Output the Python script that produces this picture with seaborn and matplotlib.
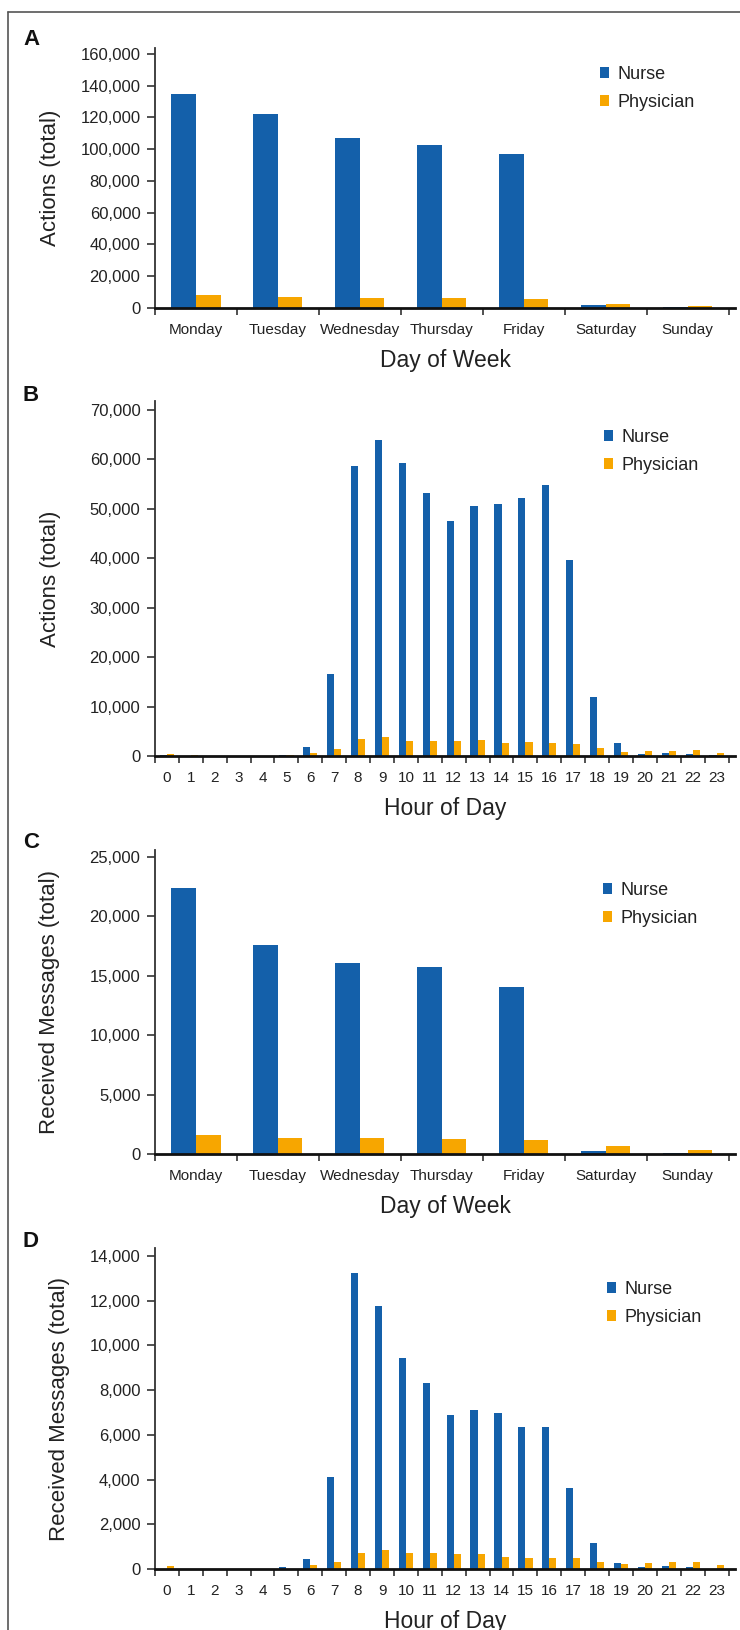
import numpy as np
import pandas as pd
import matplotlib
matplotlib.use("Agg")
import matplotlib.pyplot as plt
from matplotlib.lines import Line2D
from matplotlib.ticker import FuncFormatter
import seaborn as sns

days = ["Monday", "Tuesday", "Wednesday", "Thursday", "Friday", "Saturday", "Sunday"]
hours = [str(h) for h in range(24)]
groups = ["Nurse", "Physician"]

actions_day_nurse = [135000, 122000, 106800, 102400, 96800, 1900, 600]
actions_day_physician = [8200, 6900, 6300, 6300, 5650, 2500, 1250]

actions_hour_nurse = [150, 60, 0, 0, 0, 200, 1820, 16600, 58600, 63900, 59200, 53200,
                      47500, 50500, 50900, 52100, 54800, 39600, 12000, 2650, 400, 600, 400, 200]
actions_hour_physician = [400, 150, 0, 0, 0, 150, 680, 1500, 3450, 3870, 3060, 3060,
                          3060, 3270, 2650, 2860, 2650, 2450, 1630, 820, 1020, 1020, 1220, 610]

messages_day_nurse = [22380, 17600, 16080, 15740, 14050, 280, 110]
messages_day_physician = [1640, 1380, 1380, 1300, 1210, 700, 370]

messages_hour_nurse = [0, 0, 0, 0, 0, 75, 435, 4130, 13220, 11750, 9420, 8340,
                       6870, 7090, 6960, 6370, 6370, 3640, 1150, 255, 75, 115, 75, 0]
messages_hour_physician = [115, 0, 0, 0, 0, 0, 165, 295, 705, 835, 705, 705,
                           655, 655, 525, 475, 475, 475, 295, 205, 255, 295, 295, 165]

blue = "#1460AA"
orange = "#F7A600"

sns.set_style("ticks")
plt.rcParams["font.family"] = ["Liberation Sans", "DejaVu Sans"]
plt.rcParams["text.color"] = "#222222"
plt.rcParams["axes.labelcolor"] = "#222222"

W, H = 740, 1630
fig = plt.figure(figsize=(W / 100, H / 100), dpi=100)

# letter, categories, nurse, physician, ymax, ystep, ylabel, xlabel
panels = [
    ("A", days, actions_day_nurse, actions_day_physician, 160000, 20000, "Actions (total)", "Day of Week"),
    ("B", hours, actions_hour_nurse, actions_hour_physician, 70000, 10000, "Actions (total)", "Hour of Day"),
    ("C", days, messages_day_nurse, messages_day_physician, 25000, 5000, "Received Messages (total)", "Day of Week"),
    ("D", hours, messages_hour_nurse, messages_hour_physician, 14000, 2000, "Received Messages (total)", "Hour of Day"),
]

# layout in pixels: top tick y, zero y, legend (x, y), ylabel x
layout = [
    (53.9, 308, 600, 72, 61),
    (410, 756, 604, 435, 61),
    (857, 1154, 603, 888, 60),
    (1256, 1569, 607, 1287, 70),
]

x0, x1 = 155, 735
for (letter, cats, nurse, phys, ymax, ystep, ylab, xlab), (ytick_top, y_zero, lx, ly, ylx) in zip(panels, layout):
    n = len(cats)
    h_px = (y_zero - ytick_top) * 1.025
    ax = fig.add_axes([x0 / W, 1 - y_zero / H, (x1 - x0) / W, h_px / H])
    df = pd.DataFrame({
        "cat": cats * 2,
        "group": ["Nurse"] * n + ["Physician"] * n,
        "value": nurse + phys,
    })
    sns.barplot(data=df, x="cat", y="value", hue="group", order=cats, hue_order=groups,
                palette=[blue, orange], width=0.6, saturation=1, linewidth=0,
                errorbar=None, ax=ax)
    ax.set_xlim(-0.5, n - 0.5 + n * 0.0113)
    ax.set_ylim(0, ymax * 1.025)
    ax.set_yticks(np.arange(0, ymax + 1, ystep))
    ax.yaxis.set_major_formatter(FuncFormatter(lambda v, p: f"{int(v):,}"))
    ax.set_xticks(np.arange(-0.5, n, 1), minor=True)
    ax.tick_params(axis="x", which="major", length=0, pad=10.8, labelsize=11, colors="#222222")
    ax.tick_params(axis="x", which="minor", length=4.8, width=1.2, color="#333333")
    ax.tick_params(axis="y", which="major", length=5.5, width=1.2, pad=5, labelsize=12,
                   color="#333333", labelcolor="#222222")
    sns.despine(ax=ax)
    ax.spines["left"].set_linewidth(1.3)
    ax.spines["left"].set_color("#333333")
    ax.spines["bottom"].set_linewidth(2)
    ax.spines["bottom"].set_color("#111111")
    ax.set_ylabel(ylab, fontsize=16)
    ax.yaxis.set_label_coords((ylx - x0) / (x1 - x0), 0.5)
    ax.set_xlabel(xlab, fontsize=16.5, labelpad=8.5)
    ax.legend(loc="upper left", bbox_to_anchor=(lx / W, 1 - (ly - 6) / H),
              bbox_transform=fig.transFigure, frameon=False, fontsize=13,
              handlelength=0.5, handleheight=0.5, handletextpad=0.45,
              labelspacing=0.6, borderpad=0, borderaxespad=0)
    fig.text(23 / W, 1 - (ytick_top - 9) / H, letter, fontsize=16, fontweight="bold",
             va="baseline", ha="left", color="#111111")

# outer frame of the figure
fig.add_artist(Line2D([7.7 / W, 7.7 / W], [0, 1 - 11.5 / H], transform=fig.transFigure,
                      color="#555555", lw=1.2))
fig.add_artist(Line2D([7.7 / W, 1], [1 - 11.5 / H, 1 - 11.5 / H], transform=fig.transFigure,
                      color="#555555", lw=1.2))

fig.savefig("out.png", dpi=100)
